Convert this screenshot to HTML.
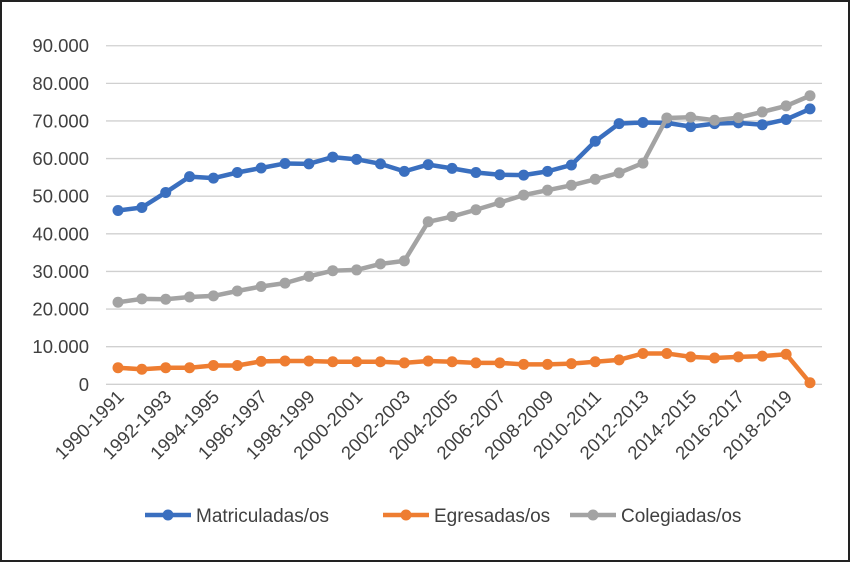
<!DOCTYPE html>
<html><head><meta charset="utf-8"><style>
body{margin:0;background:#fff;}
svg{display:block;font-family:"Liberation Sans",sans-serif;}
</style></head><body>
<svg id="chart" width="850" height="562">
<rect x="1" y="1" width="848" height="560" fill="#fff" stroke="#222" stroke-width="2"/>
<g id="grid"></g><g id="ylab"></g><g id="xlab"></g><g id="series"></g><g id="legend"></g>
</svg>
<script>
const categories=["1990-1991","1991-1992","1992-1993","1993-1994","1994-1995","1995-1996","1996-1997","1997-1998","1998-1999","1999-2000","2000-2001","2001-2002","2002-2003","2003-2004","2004-2005","2005-2006","2006-2007","2007-2008","2008-2009","2009-2010","2010-2011","2011-2012","2012-2013","2013-2014","2014-2015","2015-2016","2016-2017","2017-2018","2018-2019","2019-2020"];
const matriculadas=[46200,47000,51000,55200,54800,56300,57500,58700,58600,60400,59800,58600,56600,58400,57400,56300,55700,55600,56600,58300,64600,69300,69600,69500,68500,69300,69500,69000,70400,73200];
const egresadas=[4400,4000,4400,4400,5000,5000,6100,6200,6200,6000,6000,6000,5700,6200,6000,5700,5700,5300,5300,5500,6000,6500,8200,8200,7300,7000,7300,7500,8000,400];
const colegiadas=[21800,22700,22600,23200,23500,24800,26000,26900,28700,30200,30400,32000,32800,43200,44600,46400,48300,50300,51600,52900,54500,56200,58800,70800,71000,70200,70900,72400,74000,76700];
const yTicks=[0,10000,20000,30000,40000,50000,60000,70000,80000,90000];
const yTickLabels=["0","10.000","20.000","30.000","40.000","50.000","60.000","70.000","80.000","90.000"];
const seriesNames=["Matriculadas/os","Egresadas/os","Colegiadas/os"];
const NS="http://www.w3.org/2000/svg";
const x0=118,x1=810,y0=384.3,pxPer=37.62/10000;
const X=i=>x0+(x1-x0)*i/(categories.length-1);
const Y=v=>y0-v*pxPer;
function mk(tag,attrs,parent){const e=document.createElementNS(NS,tag);for(const k in attrs)e.setAttribute(k,attrs[k]);parent.appendChild(e);return e;}
const grid=document.getElementById('grid'),ylab=document.getElementById('ylab'),xlab=document.getElementById('xlab'),ser=document.getElementById('series'),leg=document.getElementById('legend');
yTicks.forEach((t,i)=>{
 const l=mk('line',{x1:106,x2:822,y1:Y(t),y2:Y(t),stroke:'#d0d0d0','stroke-width':1.3},grid);
 
 
 const tx=mk('text',{x:89,y:Y(t)+6.5,'text-anchor':'end','font-size':18.5,fill:'#404040'},ylab);
 tx.textContent=yTickLabels[i];
 
 
});
categories.forEach((c,i)=>{
 if(i%2)return;
 const tx=mk('text',{x:X(i)+7,y:398,'text-anchor':'end','font-size':18.5,fill:'#404040',transform:`rotate(-45 ${X(i)+7} 398)`},xlab);
 tx.textContent=c;
 
 
});
const cols=["#3a6fbf","#ee7d31","#a3a3a3"];
[matriculadas,egresadas,colegiadas].forEach((d,s)=>{
 const g=mk('g',{},ser);
 
 
 mk('polyline',{points:d.map((v,i)=>X(i)+','+Y(v)).join(' '),fill:'none',stroke:cols[s],'stroke-width':4.5,'stroke-linejoin':'round'},g);
 d.forEach((v,i)=>{
  const c=mk('circle',{cx:X(i),cy:Y(v),r:5.5,fill:cols[s]},g);
  
  
 });
});
const lx=[145,383,570];
seriesNames.forEach((n,s)=>{
 const g=mk('g',{},leg);
 
 
 mk('line',{x1:lx[s],x2:lx[s]+46,y1:515,y2:515,stroke:cols[s],'stroke-width':4.5},g);
 mk('circle',{cx:lx[s]+23,cy:515,r:5.5,fill:cols[s]},g);
 const t=mk('text',{x:lx[s]+51,y:522,'font-size':19,fill:'#404040'},g);
 t.textContent=n;
});
</script>
</body></html>
